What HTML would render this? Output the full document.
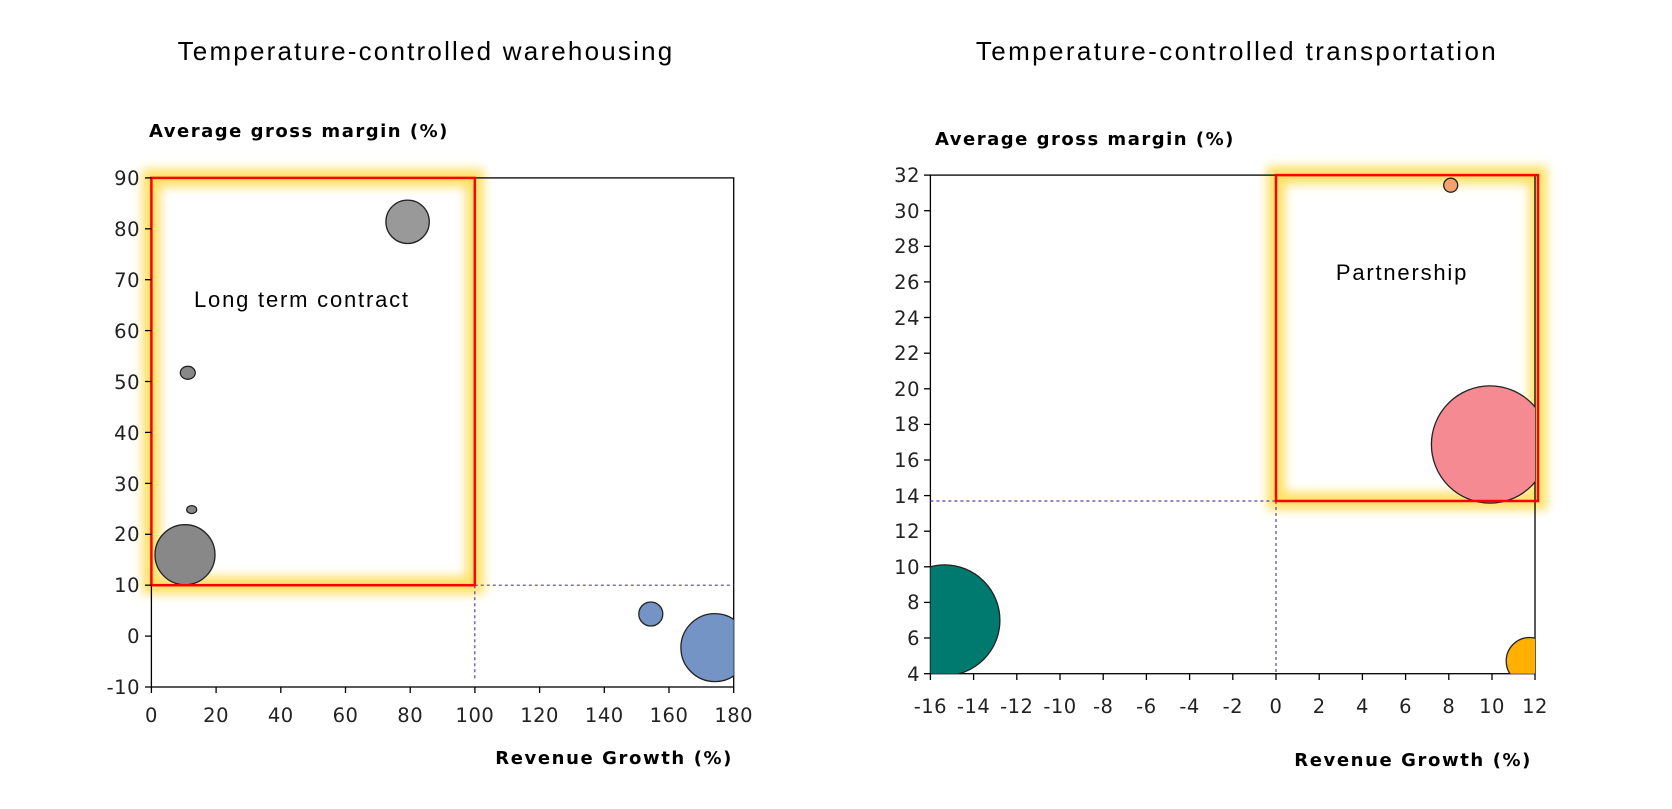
<!DOCTYPE html>
<html><head><meta charset="utf-8"><style>
html,body{margin:0;padding:0;background:#fff;}
svg{display:block;}
</style></head><body>
<svg width="1672" height="809" xmlns="http://www.w3.org/2000/svg">
<defs>
<filter id="glow" x="-20%" y="-20%" width="140%" height="140%"><feGaussianBlur stdDeviation="5"/></filter>
<clipPath id="cl"><rect x="151.4" y="177.9" width="582.3" height="509.1"/></clipPath>
<clipPath id="cr"><rect x="930.4" y="175.1" width="604.6" height="498.6"/></clipPath>
</defs>
<g font-family="Liberation Sans, sans-serif" fill="#000">
<text x="426" y="60" font-size="26" letter-spacing="2.2" text-anchor="middle">Temperature-controlled warehousing</text>
<text x="1237" y="60" font-size="26" letter-spacing="2.4" text-anchor="middle">Temperature-controlled transportation</text>
</g>
<g font-family="DejaVu Sans, Verdana, sans-serif">
<text x="149" y="137" font-size="18" letter-spacing="1.5" font-weight="bold">Average gross margin (%)</text>
<text x="733" y="764" font-size="18" letter-spacing="1.6" font-weight="bold" text-anchor="end">Revenue Growth (%)</text>
<text x="935" y="145" font-size="18" letter-spacing="1.5" font-weight="bold">Average gross margin (%)</text>
<text x="1532" y="766" font-size="18" letter-spacing="1.6" font-weight="bold" text-anchor="end">Revenue Growth (%)</text>
</g>
<!-- LEFT -->
<rect x="151.4" y="177.9" width="323.4" height="407.3" fill="none" stroke="#ffe066" stroke-width="18" filter="url(#glow)"/>
<rect x="151.4" y="177.9" width="582.3" height="509.1" fill="none" stroke="#000" stroke-width="1.3"/>
<g stroke="#5a3fa8" stroke-width="1.2" stroke-dasharray="3,3" fill="none">
<line x1="474.8" y1="585.2" x2="733.7" y2="585.2"/>
<line x1="474.8" y1="585.2" x2="474.8" y2="680"/>
</g>
<g clip-path="url(#cl)" stroke="#222" stroke-width="1.3">
<circle cx="407.6" cy="221.8" r="21.7" fill="#999"/>
<ellipse cx="187.8" cy="372.8" rx="7.5" ry="6.5" fill="#888"/>
<ellipse cx="191.7" cy="509.6" rx="5" ry="4" fill="#888"/>
<circle cx="185" cy="554.7" r="30" fill="#888"/>
<circle cx="650.8" cy="614" r="12" fill="#7394c4"/>
<circle cx="714.9" cy="647.6" r="34" fill="#7394c4"/>
</g>
<rect x="151.4" y="177.9" width="323.4" height="407.3" fill="none" stroke="#ff0000" stroke-width="2.5"/>
<g stroke="#000" stroke-width="1.3">
<line x1="145" y1="177.9" x2="151.4" y2="177.9"/><line x1="145" y1="228.8" x2="151.4" y2="228.8"/><line x1="145" y1="279.7" x2="151.4" y2="279.7"/><line x1="145" y1="330.6" x2="151.4" y2="330.6"/><line x1="145" y1="381.5" x2="151.4" y2="381.5"/><line x1="145" y1="432.4" x2="151.4" y2="432.4"/><line x1="145" y1="483.4" x2="151.4" y2="483.4"/><line x1="145" y1="534.3" x2="151.4" y2="534.3"/><line x1="145" y1="585.2" x2="151.4" y2="585.2"/><line x1="145" y1="636.1" x2="151.4" y2="636.1"/><line x1="145" y1="687" x2="151.4" y2="687"/>
<line x1="151.4" y1="687" x2="151.4" y2="693"/><line x1="216.1" y1="687" x2="216.1" y2="693"/><line x1="280.8" y1="687" x2="280.8" y2="693"/><line x1="345.5" y1="687" x2="345.5" y2="693"/><line x1="410.2" y1="687" x2="410.2" y2="693"/><line x1="474.9" y1="687" x2="474.9" y2="693"/><line x1="539.6" y1="687" x2="539.6" y2="693"/><line x1="604.3" y1="687" x2="604.3" y2="693"/><line x1="669" y1="687" x2="669" y2="693"/><line x1="733.7" y1="687" x2="733.7" y2="693"/>
</g>
<g font-family="DejaVu Sans, Verdana, sans-serif" font-size="19.5" fill="#222" letter-spacing="0.5">
<g text-anchor="end">
<text x="140" y="185">90</text><text x="140" y="236">80</text><text x="140" y="287">70</text><text x="140" y="338">60</text><text x="140" y="389">50</text><text x="140" y="440">40</text><text x="140" y="491">30</text><text x="140" y="541">20</text><text x="140" y="592">10</text><text x="140" y="643">0</text><text x="140" y="694">-10</text>
</g>
<g text-anchor="middle">
<text x="151.4" y="722">0</text><text x="216.1" y="722">20</text><text x="280.8" y="722">40</text><text x="345.5" y="722">60</text><text x="410.2" y="722">80</text><text x="474.9" y="722">100</text><text x="539.6" y="722">120</text><text x="604.3" y="722">140</text><text x="669" y="722">160</text><text x="733.7" y="722">180</text>
</g>
</g>
<text x="194" y="307" font-family="Liberation Sans, sans-serif" font-size="22" letter-spacing="1.8">Long term contract</text>

<!-- RIGHT -->
<rect x="1276" y="175.1" width="262" height="325.9" fill="none" stroke="#ffe066" stroke-width="18" filter="url(#glow)"/>
<rect x="930.4" y="175.1" width="604.6" height="498.6" fill="none" stroke="#000" stroke-width="1.3"/>
<g stroke="#5a3fa8" stroke-width="1.2" stroke-dasharray="3,3" fill="none">
<line x1="930.4" y1="501" x2="1276" y2="501"/>
<line x1="1276" y1="501" x2="1276" y2="674"/>
</g>
<g clip-path="url(#cr)" stroke="#222" stroke-width="1.3">
<circle cx="944.5" cy="620.3" r="55.4" fill="#007a6e"/>
<circle cx="1450.7" cy="185.2" r="7" fill="#f4a070"/>
<circle cx="1490" cy="444.5" r="58.6" fill="#f58a92"/>
<circle cx="1529.7" cy="661" r="23.5" fill="#ffb000"/>
</g>
<rect x="1276" y="175.1" width="262" height="325.9" fill="none" stroke="#ff0000" stroke-width="2.5"/>
<g stroke="#000" stroke-width="1.3">
<line x1="924" y1="175.1" x2="930.4" y2="175.1"/><line x1="924" y1="210.7" x2="930.4" y2="210.7"/><line x1="924" y1="246.3" x2="930.4" y2="246.3"/><line x1="924" y1="281.9" x2="930.4" y2="281.9"/><line x1="924" y1="317.5" x2="930.4" y2="317.5"/><line x1="924" y1="353.2" x2="930.4" y2="353.2"/><line x1="924" y1="388.8" x2="930.4" y2="388.8"/><line x1="924" y1="424.4" x2="930.4" y2="424.4"/><line x1="924" y1="460" x2="930.4" y2="460"/><line x1="924" y1="495.6" x2="930.4" y2="495.6"/><line x1="924" y1="531.2" x2="930.4" y2="531.2"/><line x1="924" y1="566.8" x2="930.4" y2="566.8"/><line x1="924" y1="602.4" x2="930.4" y2="602.4"/><line x1="924" y1="638" x2="930.4" y2="638"/><line x1="924" y1="673.7" x2="930.4" y2="673.7"/>
<line x1="930.4" y1="673.7" x2="930.4" y2="680"/><line x1="973.6" y1="673.7" x2="973.6" y2="680"/><line x1="1016.8" y1="673.7" x2="1016.8" y2="680"/><line x1="1060" y1="673.7" x2="1060" y2="680"/><line x1="1103.2" y1="673.7" x2="1103.2" y2="680"/><line x1="1146.4" y1="673.7" x2="1146.4" y2="680"/><line x1="1189.6" y1="673.7" x2="1189.6" y2="680"/><line x1="1232.8" y1="673.7" x2="1232.8" y2="680"/><line x1="1276" y1="673.7" x2="1276" y2="680"/><line x1="1319.2" y1="673.7" x2="1319.2" y2="680"/><line x1="1362.4" y1="673.7" x2="1362.4" y2="680"/><line x1="1405.6" y1="673.7" x2="1405.6" y2="680"/><line x1="1448.8" y1="673.7" x2="1448.8" y2="680"/><line x1="1492" y1="673.7" x2="1492" y2="680"/><line x1="1535" y1="673.7" x2="1535" y2="680"/>
</g>
<g font-family="DejaVu Sans, Verdana, sans-serif" font-size="19.5" fill="#222" letter-spacing="0.5">
<g text-anchor="end">
<text x="920" y="182">32</text><text x="920" y="218">30</text><text x="920" y="253">28</text><text x="920" y="289">26</text><text x="920" y="325">24</text><text x="920" y="360">22</text><text x="920" y="396">20</text><text x="920" y="431">18</text><text x="920" y="467">16</text><text x="920" y="503">14</text><text x="920" y="538">12</text><text x="920" y="574">10</text><text x="920" y="609">8</text><text x="920" y="645">6</text><text x="920" y="681">4</text>
</g>
<g text-anchor="middle">
<text x="930.4" y="713">-16</text><text x="973.6" y="713">-14</text><text x="1016.8" y="713">-12</text><text x="1060" y="713">-10</text><text x="1103.2" y="713">-8</text><text x="1146.4" y="713">-6</text><text x="1189.6" y="713">-4</text><text x="1232.8" y="713">-2</text><text x="1276" y="713">0</text><text x="1319.2" y="713">2</text><text x="1362.4" y="713">4</text><text x="1405.6" y="713">6</text><text x="1448.8" y="713">8</text><text x="1492" y="713">10</text><text x="1535" y="713">12</text>
</g>
</g>
<text x="1402" y="280" font-family="Liberation Sans, sans-serif" font-size="22" letter-spacing="1.8" text-anchor="middle">Partnership</text>
</svg>
</body></html>
